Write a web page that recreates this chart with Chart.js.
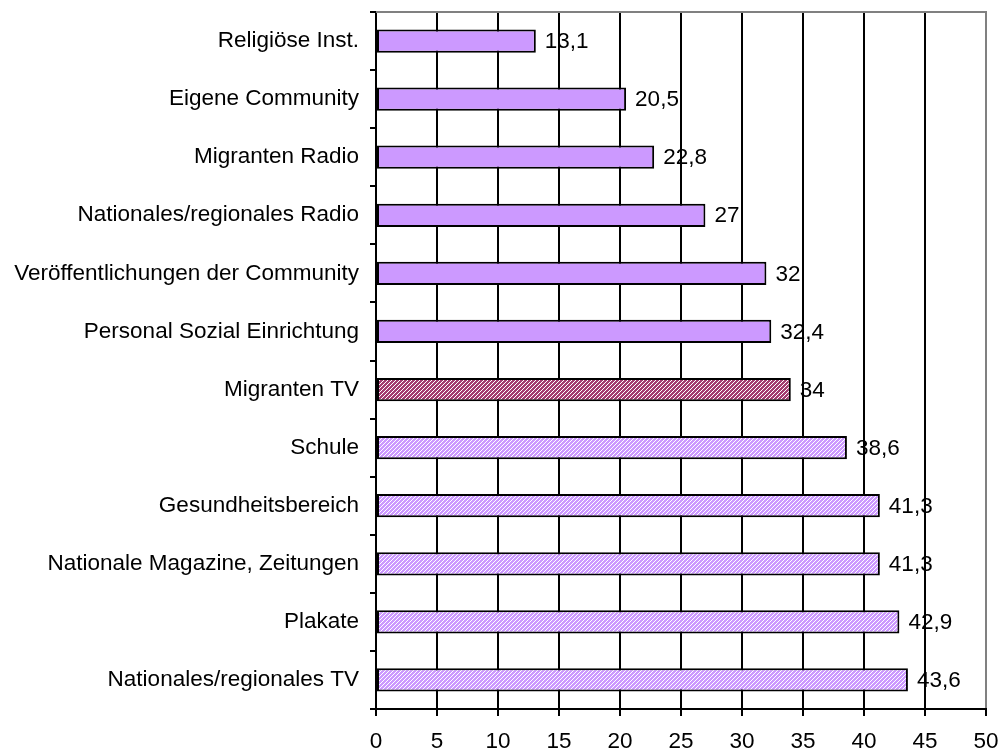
<!DOCTYPE html>
<html>
<head>
<meta charset="utf-8">
<script src="https://cdn.jsdelivr.net/npm/chart.js@4/dist/chart.umd.min.js"></script>
<style>
  html, body { margin: 0; padding: 0; background: #fff; }
  #c { display: block; }
</style>
</head>
<body>
<canvas id="c" width="1002" height="751"></canvas>
<script>
// Informationsquellen, Angaben in Prozent
const categories = [
  'Religiöse Inst.',
  'Eigene Community',
  'Migranten Radio',
  'Nationales/regionales Radio',
  'Veröffentlichungen der Community',
  'Personal Sozial Einrichtung',
  'Migranten TV',
  'Schule',
  'Gesundheitsbereich',
  'Nationale Magazine, Zeitungen',
  'Plakate',
  'Nationales/regionales TV'
];
const values = [13.1, 20.5, 22.8, 27, 32, 32.4, 34, 38.6, 41.3, 41.3, 42.9, 43.6];
// fill style per bar: 'solid', 'hatchDark', 'hatchLight'
const fillKinds = ['solid', 'solid', 'solid', 'solid', 'solid', 'solid',
  'hatchDark', 'hatchLight', 'hatchLight', 'hatchLight', 'hatchLight', 'hatchLight'];
const xTicks = [0, 5, 10, 15, 20, 25, 30, 35, 40, 45, 50];

const FONT = 'Liberation Sans, Arial, sans-serif';
const FONT_SIZE = 22.5;

// fine diagonal hatch: base colour with thin white diagonals
function makeHatch(base) {
  const p = document.createElement('canvas');
  p.width = 4; p.height = 4;
  const g = p.getContext('2d');
  g.fillStyle = base;
  g.fillRect(0, 0, 4, 4);
  g.fillStyle = '#ffffff';
  for (let i = 0; i < 4; i++) {
    g.fillRect((3 - i) % 4, i, 1, 1);
  }
  return g.createPattern(p, 'repeat');
}
const ctx = document.getElementById('c').getContext('2d');
const fills = {
  solid: '#CC99FF',
  hatchDark: makeHatch('#A33D70'),
  hatchLight: makeHatch('#CC99FF')
};

// value labels with decimal comma, drawn before the grid so grid lines cross them
const valueLabels = {
  id: 'valueLabels',
  beforeDraw(chart) {
    const c = chart.ctx;
    const meta = chart.getDatasetMeta(0);
    c.save();
    c.font = FONT_SIZE + 'px ' + FONT;
    c.fillStyle = '#000';
    c.textAlign = 'left';
    c.textBaseline = 'middle';
    meta.data.forEach((bar, i) => {
      const txt = String(values[i]).replace('.', ',');
      c.fillText(txt, bar.x + 9, bar.y + 1);
    });
    c.restore();
  }
};

// grey frame along the top of the plot area
const topFrame = {
  id: 'topFrame',
  beforeDatasetsDraw(chart) {
    const a = chart.chartArea;
    const c = chart.ctx;
    c.save();
    c.strokeStyle = '#808080';
    c.lineWidth = 2;
    c.beginPath();
    c.moveTo(a.left, a.top);
    c.lineTo(a.right + 1, a.top);
    c.stroke();
    c.restore();
  }
};

new Chart(ctx, {
  type: 'bar',
  data: {
    labels: categories,
    datasets: [{
      data: values,
      backgroundColor: fillKinds.map(k => fills[k]),
      borderColor: '#000',
      borderWidth: 2,
      borderSkipped: false,
      barPercentage: 0.4,
      categoryPercentage: 1
    }]
  },
  options: {
    indexAxis: 'y',
    responsive: false,
    animation: false,
    devicePixelRatio: 1,
    layout: { padding: { top: 12, right: 16, left: 0, bottom: 0 } },
    plugins: { legend: { display: false }, tooltip: { enabled: false } },
    scales: {
      x: {
        min: 0, max: 50,
        afterBuildTicks(scale) { scale.ticks = xTicks.map(v => ({ value: v })); },
        afterFit(scale) {
          scale.height = 42;
          scale.paddingLeft = 0;
          scale.paddingRight = 0;
        },
        border: { display: true, color: '#000', width: 2 },
        grid: {
          drawOnChartArea: true,
          color: ctx => ctx.tick && ctx.tick.value === 50 ? '#808080' : '#000',
          lineWidth: 2,
          tickLength: 7,
          tickColor: '#000'
        },
        ticks: {
          color: '#000',
          font: { family: FONT, size: FONT_SIZE },
          padding: 12,
          maxRotation: 0
        }
      },
      y: {
        afterFit(scale) {
          scale.width = 376;
          scale.paddingTop = 0;
          scale.paddingBottom = 0;
        },
        border: { display: true, color: '#000', width: 2 },
        grid: {
          offset: true,
          drawOnChartArea: false,
          color: '#000',
          lineWidth: 2,
          tickLength: 6
        },
        ticks: {
          color: '#000',
          font: { family: FONT, size: FONT_SIZE },
          padding: 11
        }
      }
    }
  },
  plugins: [valueLabels, topFrame]
});
</script>
</body>
</html>
